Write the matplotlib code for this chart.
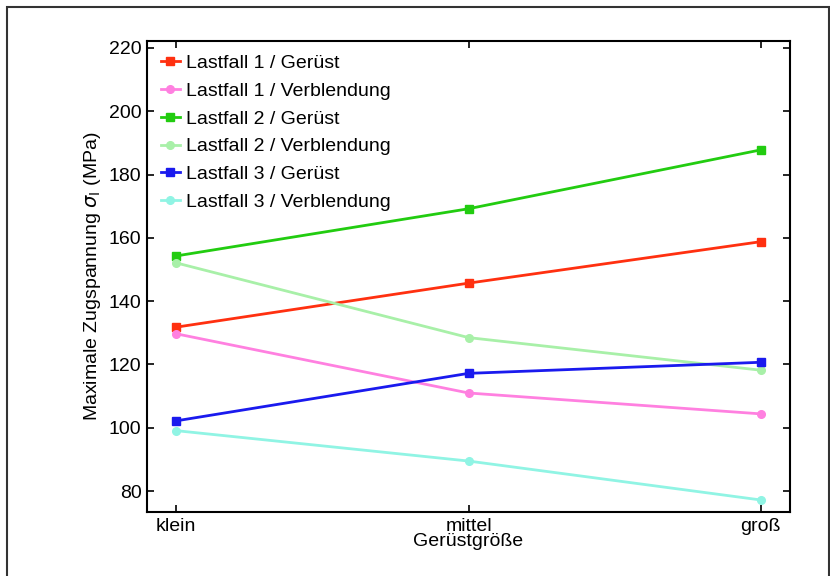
import matplotlib
matplotlib.use("Agg")
import matplotlib.pyplot as plt
from matplotlib.patches import Rectangle

plt.rcParams["font.family"] = ["Liberation Sans", "DejaVu Sans"]

# ── data ──────────────────────────────────────────────────────────────
sizes = ["klein", "mittel", "groß"]
lf1_geruest     = [131.8, 145.7, 158.8]
lf1_verblendung = [129.7, 111.0, 104.4]
lf2_geruest     = [154.3, 169.2, 187.8]
lf2_verblendung = [152.1, 128.5, 118.2]
lf3_geruest     = [102.2, 117.2, 120.7]
lf3_verblendung = [99.1, 89.5, 77.2]

series = [
    ("Lastfall 1 / Gerüst",       lf1_geruest,     "#ff3010", "s"),
    ("Lastfall 1 / Verblendung",  lf1_verblendung, "#ff80e0", "o"),
    ("Lastfall 2 / Gerüst",       lf2_geruest,     "#22cc10", "s"),
    ("Lastfall 2 / Verblendung",  lf2_verblendung, "#a8f0a8", "o"),
    ("Lastfall 3 / Gerüst",       lf3_geruest,     "#1a1aee", "s"),
    ("Lastfall 3 / Verblendung",  lf3_verblendung, "#90f4e4", "o"),
]

fig = plt.figure(figsize=(8.3, 5.76), dpi=100)
ax = fig.add_axes([147 / 830, 1 - 512 / 576, (790 - 147) / 830, (512 - 41) / 576])

# outer frame
fig.patches.append(Rectangle((7 / 830, -0.05), (829 - 7) / 830, 1 - 7 / 576 + 0.05,
                             transform=fig.transFigure, fill=False,
                             edgecolor="#333333", linewidth=1.5))

x = list(range(1, len(sizes) + 1))
for label, vals, col, mk in series:
    ax.plot(x, vals, color=col, linewidth=2, marker=mk, markersize=5.5,
            markeredgecolor=col, label=label)

ax.set_xlim(0.9, 3.1)
ax.set_ylim(73.4, 222.2)
ax.set_xticks(x)
ax.set_xticklabels(sizes)
ax.set_yticks(range(80, 221, 20))
ax.tick_params(direction="in", top=True, right=True, length=5, width=1.2,
               labelsize=14, pad=4)
for sp in ax.spines.values():
    sp.set_linewidth(1.5)

ax.set_xlabel("Gerüstgröße", fontsize=14, labelpad=-1)
ax.set_ylabel("Maximale Zugspannung $\\sigma_\\mathrm{I}$ (MPa)", fontsize=14, labelpad=4)

ax.legend(loc="upper left", frameon=False, fontsize=14, handlelength=1.0,
          handletextpad=0.3, labelspacing=0.52, borderaxespad=0.45,
          borderpad=0.25)

plt.savefig("out.png", dpi=100, facecolor="white")
